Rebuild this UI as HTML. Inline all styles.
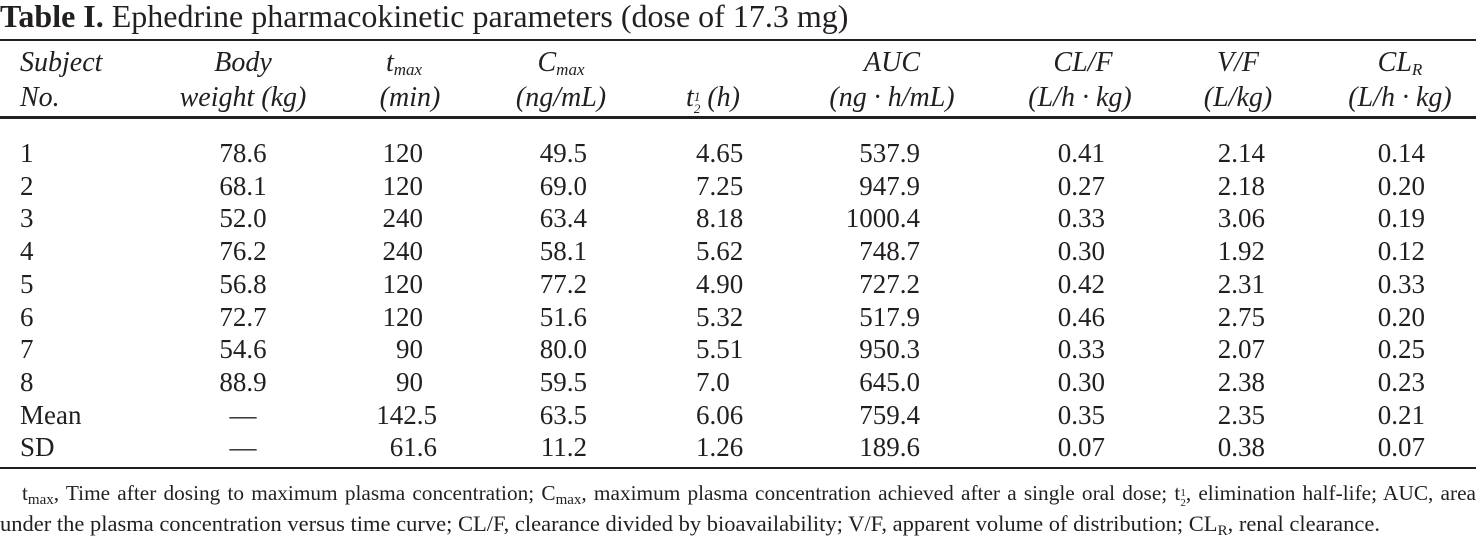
<!DOCTYPE html>
<html><head><meta charset="utf-8"><style>
body{margin:0;width:1476px;height:537px;background:#fff;position:relative;overflow:hidden;font-family:"Liberation Serif",serif;color:#231f20}
.a{position:absolute;white-space:nowrap;font-size:27px;line-height:26px}
.c{transform:translateX(-50%)}
.r{transform:translateX(-100%)}
.i{font-style:italic;font-size:28px}
.rule{position:absolute;left:0;width:1476px;background:#231f20}
sub{font-size:17px;vertical-align:-4px;line-height:0}
.fn{position:absolute;font-size:22.5px;line-height:22px;white-space:nowrap}
</style></head><body>
<div class="a" style="left:0;top:1px;font-size:32px;line-height:30px"><b>Table I.</b> Ephedrine pharmacokinetic parameters (dose of 17.3 mg)</div>
<div class="rule" style="top:39px;height:2px"></div>
<div>
<div class="a i" style="left:20px;top:50px">Subject</div>
<div class="a i" style="left:20px;top:85px">No.</div>
<div class="a i c" style="left:243px;top:50px">Body</div>
<div class="a i c" style="left:243px;top:85px">weight (kg)</div>
<div class="a i c" style="left:404px;top:50px">t<sub>max</sub></div>
<div class="a i c" style="left:410px;top:85px">(min)</div>
<div class="a i c" style="left:561px;top:50px">C<sub>max</sub></div>
<div class="a i c" style="left:561px;top:85px">(ng/mL)</div>
<div class="a i c" style="left:713px;top:85px">t<span style="display:inline-block;font-size:13px;line-height:12px;vertical-align:-7px;text-align:center">1<br>2</span> (h)</div>
<div class="a i c" style="left:892px;top:50px">AUC</div>
<div class="a i c" style="left:892px;top:85px">(ng · h/mL)</div>
<div class="a i c" style="left:1083px;top:50px">CL/F</div>
<div class="a i c" style="left:1080px;top:85px">(L/h · kg)</div>
<div class="a i c" style="left:1238px;top:50px">V/F</div>
<div class="a i c" style="left:1238px;top:85px">(L/kg)</div>
<div class="a i c" style="left:1400px;top:50px">CL<sub>R</sub></div>
<div class="a i c" style="left:1400px;top:85px">(L/h · kg)</div>
</div>
<div class="rule" style="top:116px;height:3px"></div>
<div id="body"></div>
<div class="rule" style="top:467px;height:2px"></div>
<div class="fn" style="left:22px;top:482px;width:1454px;font-size:21.3px;text-align:justify;text-align-last:justify">t<sub style="font-size:15px">max</sub>, Time after dosing to maximum plasma concentration; C<sub style="font-size:15px">max</sub>, maximum plasma concentration achieved after a single oral dose; t<span style="font-size:11px;display:inline-block;line-height:10px;vertical-align:-6px">1<br>2</span>, elimination half-life; AUC, area</div>
<div class="fn" style="left:0;top:513px">under the plasma concentration versus time curve; CL/F, clearance divided by bioavailability; V/F, apparent volume of distribution; CL<sub style="font-size:15px">R</sub>, renal clearance.</div>
<script>
const subjects=["1","2","3","4","5","6","7","8","Mean","SD"];
const bw=["78.6","68.1","52.0","76.2","56.8","72.7","54.6","88.9","—","—"];
const tmax=["120","120","240","240","120","120","90","90","142.5","61.6"];
const cmax=["49.5","69.0","63.4","58.1","77.2","51.6","80.0","59.5","63.5","11.2"];
const thalf=["4.65","7.25","8.18","5.62","4.90","5.32","5.51","7.0","6.06","1.26"];
const auc=["537.9","947.9","1000.4","748.7","727.2","517.9","950.3","645.0","759.4","189.6"];
const clf=["0.41","0.27","0.33","0.30","0.42","0.46","0.33","0.30","0.35","0.07"];
const vf=["2.14","2.18","3.06","1.92","2.31","2.75","2.07","2.38","2.35","0.38"];
const clr=["0.14","0.20","0.19","0.12","0.33","0.20","0.25","0.23","0.21","0.07"];
const body=document.getElementById('body');
function cell(txt,x,y,cls){const d=document.createElement('div');d.className='a '+cls;d.style.left=x+'px';d.style.top=y+'px';d.textContent=txt;


body.appendChild(d);}
subjects.forEach((s,i)=>{const y=140+i*32.7;
cell(s,20,y,'');
cell(bw[i],243,y,'c');
cell(tmax[i],i<8?423:437,y,'r');
cell(cmax[i],587,y,'r');
cell(thalf[i],696,y,'');
cell(auc[i],920,y,'r');
cell(clf[i],1105,y,'r');
cell(vf[i],1265,y,'r');
cell(clr[i],1425,y,'r');
});
</script>
</body></html>
